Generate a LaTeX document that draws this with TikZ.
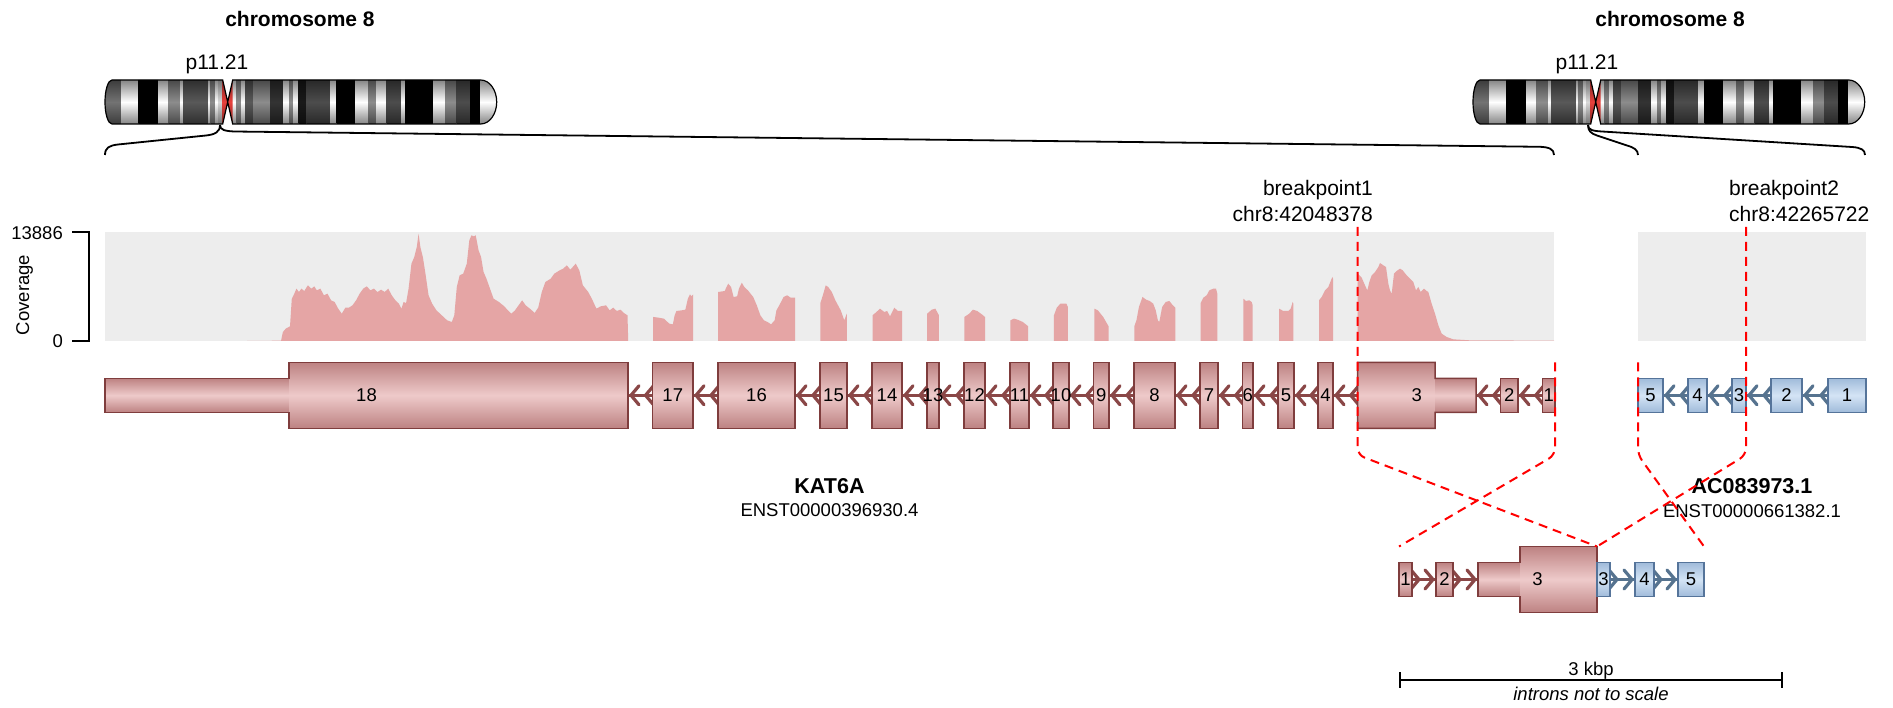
\documentclass[tikz,border=0pt]{standalone}
\usepackage{fontspec}
\setmainfont{Liberation Sans}
\usetikzlibrary{calc,backgrounds}

% colours
\definecolor{exmid}{HTML}{EECACA}
\definecolor{exedge}{HTML}{BD8282}
\definecolor{exline}{HTML}{7F3D3D}
\definecolor{inred}{HTML}{8A4747}
\definecolor{bxmid}{HTML}{D4E4F5}
\definecolor{bxedge}{HTML}{A0BBDA}
\definecolor{bxline}{HTML}{55749A}
\definecolor{inblue}{HTML}{56738F}
\definecolor{covfill}{HTML}{E5A5A5}
\definecolor{covbg}{HTML}{EDEDED}
\definecolor{bpred}{HTML}{FF0000}
\definecolor{cenred}{HTML}{E8413C}

\tikzset{
  txt/.style={inner sep=0pt, font=\fontsize{18.5}{22}\selectfont},
  boldtxt/.style={inner sep=0pt, font=\fontsize{21.5}{25}\selectfont\bfseries},
  bigtxt/.style={inner sep=0pt, font=\fontsize{21}{25}\selectfont},
  bigbold/.style={inner sep=0pt, font=\fontsize{21}{25}\selectfont\bfseries},
  exbase/.style={anchor=west, inner sep=0pt, outer sep=0pt, line width=1.5pt},
  exred/.style={exbase, top color=exedge, bottom color=exedge, middle color=exmid, draw=exline},
  exredf/.style={exbase, top color=exedge, bottom color=exedge, middle color=exmid},
  exblue/.style={exbase, top color=bxedge, bottom color=bxedge, middle color=bxmid, draw=bxline},
  exfull/.style={minimum height=66pt},
  exhalf/.style={minimum height=34pt},
  chev/.style={line width=3.2pt, line cap=round, line join=round},
  bpline/.style={draw=bpred, line width=2pt, dash pattern=on 9pt off 6pt, rounded corners=7pt},
  zoomcurve/.style={draw=black, line width=1.8pt},
  axisline/.style={draw=black, line width=2pt},
}

% exon box: name, style, height style, left x, right x, label
\newcommand\exon[6]{%
  \pgfmathsetmacro\exw{#5-#4}%
  \node[#2,#3,minimum width=\exw pt] (#1) at (#4,\yc) {};%
  \node[txt] (#1-l) at (#1.center) {#6};%
}
% intron with leftward chevrons
\newcommand\intronL[3]{%
  \draw[draw=#3, line width=3.5pt] (#1.east) -- (#2.west);
  \draw[draw=#3, chev] ($(#1.east)+(11,-9.5)$) -- ($(#1.east)+(3,0)$) -- ($(#1.east)+(11,9.5)$);
  \draw[draw=#3, chev] ($(#2.west)+(1,-9.5)$) -- ($(#2.west)+(-7,0)$) -- ($(#2.west)+(1,9.5)$);
}
% intron with rightward chevrons
\newcommand\intronR[3]{%
  \draw[draw=#3, line width=3.5pt] (#1.east) -- (#2.west);
  \draw[draw=#3, chev] ($(#1.east)+(-1,-9.5)$) -- ($(#1.east)+(7,0)$) -- ($(#1.east)+(-1,9.5)$);
  \draw[draw=#3, chev] ($(#2.west)+(-11,-9.5)$) -- ($(#2.west)+(-3,0)$) -- ($(#2.west)+(-11,9.5)$);
}
% ideogram of chromosome 8, left end at the given x
\newcommand\chromosome[1]{%
\begin{scope}[shift={(#1,80)}]
  \begin{scope}
    \clip (7,0) -- (117.7,0) -- (117.7,44) -- (7,44) .. controls (3.13,44) and (0,34.15) .. (0,22) .. controls (0,9.85) and (3.13,0) .. (7,0) -- cycle;
    \foreach \bandA/\bandB/\bandG in {0/16.7/0.45, 16.7/33.3/1, 33.3/53.3/0, 53.3/63.3/1, 63.3/75/0.55, 75/78.3/1, 78.3/103.3/0.35, 103.3/105.7/1, 105.7/110/0.55, 110/113.3/1, 113.3/118/0.85}
      {\definecolor{bandc}{gray}{\bandG}\shade[top color=bandc!50!black, bottom color=bandc!50!black, middle color=bandc] (\bandA,-1) rectangle (\bandB,45);}
  \end{scope}
  \begin{scope}
    \clip (127.7,0) -- (375.7,0) .. controls (384.5,0) and (391.7,9.85) .. (391.7,22) .. controls (391.7,34.15) and (384.5,44) .. (375.7,44) -- (127.7,44) -- cycle;
    \foreach \bandA/\bandB/\bandG in {127.4/131.7/1, 131.7/136.7/0.55, 136.7/140/1, 140/148.3/0.35, 148.3/165/0.55, 165/178.3/0.2, 178.3/184.3/1, 184.3/188.3/0.55, 188.3/193.3/1, 193.3/201.7/0.1, 201.7/225/0.3, 225/231.7/1, 231.7/250/0, 250/263.3/1, 263.3/271.7/0.55, 271.7/281.7/1, 281.7/296.7/0.3, 296.7/300/1, 300/328.3/0, 328.3/340/1, 340/351.7/0.55, 351.7/365/0.3, 365/375/0, 375/392/1}
      {\definecolor{bandc}{gray}{\bandG}\shade[top color=bandc!50!black, bottom color=bandc!50!black, middle color=bandc] (\bandA,-1) rectangle (\bandB,45);}
  \end{scope}
  \shade[top color=cenred!55!black, bottom color=cenred!55!black, middle color=cenred] (117.7,0) -- (122.7,22) -- (117.7,44) -- cycle;
  \shade[top color=cenred!55!black, bottom color=cenred!55!black, middle color=cenred] (127.7,0) -- (122.7,22) -- (127.7,44) -- cycle;
  \draw[line width=1.2pt] (7,0) -- (117.7,0) -- (127.7,44) -- (375.7,44) .. controls (384.5,44) and (391.7,34.15) .. (391.7,22) .. controls (391.7,9.85) and (384.5,0) .. (375.7,0) -- (127.7,0) -- (117.7,44) -- (7,44) .. controls (3.13,44) and (0,34.15) .. (0,22) .. controls (0,9.85) and (3.13,0) .. (7,0) -- cycle;
\end{scope}}

\begin{document}
\begin{tikzpicture}[x=1pt,y=-1pt]
\useasboundingbox (0,0) rectangle (1893,708);

% ---------------- chromosome ideograms ----------------
\chromosome{105}
\chromosome{1473}
\node[bigbold, anchor=base] (chrL) at (300,26.7) {chromosome 8};
\node[bigbold, anchor=base] (chrR) at (1670,26.7) {chromosome 8};
\node[bigtxt, anchor=base] (bandLlab) at (217,70) {p11.21};
\node[bigtxt, anchor=base] (bandRlab) at (1587,70) {p11.21};

% zoom curves from the band to the gene regions
\coordinate (bandL) at (220,125);
\coordinate (bandR) at (1588,125);
\draw[zoomcurve] (bandL) .. controls (220,132) and (215,134.5) .. (206,135.5) -- (118,144.5) .. controls (109,145.5) and (105,148) .. (105,155);
\draw[zoomcurve] (bandL) .. controls (220,130) and (225,131) .. (234,131.5) -- (1540,146.8) .. controls (1549,147.2) and (1554,149) .. (1554,155);
\draw[zoomcurve] (bandR) .. controls (1588,131) and (1591,133.5) .. (1597,135.5) -- (1627,145.5) .. controls (1634,147.5) and (1638,150) .. (1638,155);
\draw[zoomcurve] (bandR) .. controls (1588,130) and (1593,131) .. (1602,131.5) -- (1852,147) .. controls (1861,147.6) and (1865,150) .. (1865,155);

% ---------------- coverage track ----------------
\fill[covbg] (105,232) rectangle (1554,341);
\fill[covbg] (1638,232) rectangle (1866,341);

\begin{scope}[shift={(90,220.33)}, xscale=0.35714, yscale=0.33333]
\fill[covfill] (440,362) -- (535,361) -- (540,335) -- (548,325) -- (560,318) -- (565,235) -- (570,225) -- (578,205) -- (585,215) -- (592,205) -- (600,212) -- (610,195) -- (620,205) -- (628,198) -- (635,210) -- (645,205) -- (655,225) -- (665,220) -- (675,240) -- (685,245) -- (695,265) -- (705,280) -- (715,262) -- (725,262) -- (735,255) -- (745,240) -- (755,220) -- (765,205) -- (775,198) -- (785,210) -- (795,205) -- (805,215) -- (815,208) -- (825,215) -- (835,205) -- (845,225) -- (855,240) -- (865,250) -- (872,265) -- (878,245) -- (885,248) -- (892,205) -- (900,130) -- (908,110) -- (915,80) -- (920,40) -- (925,80) -- (932,110) -- (940,165) -- (948,225) -- (958,250) -- (970,270) -- (985,285) -- (1000,300) -- (1013,305) -- (1020,285) -- (1027,200) -- (1035,165) -- (1045,160) -- (1055,130) -- (1062,60) -- (1068,45) -- (1075,48) -- (1080,45) -- (1088,90) -- (1095,110) -- (1102,155) -- (1110,175) -- (1120,205) -- (1130,235) -- (1145,245) -- (1160,258) -- (1170,270) -- (1180,280) -- (1190,270) -- (1200,255) -- (1210,240) -- (1220,255) -- (1235,268) -- (1245,278) -- (1255,262) -- (1265,215) -- (1275,185) -- (1290,175) -- (1300,160) -- (1315,150) -- (1325,145) -- (1335,135) -- (1345,148) -- (1360,130) -- (1370,150) -- (1380,195) -- (1395,215) -- (1405,235) -- (1418,265) -- (1430,258) -- (1445,255) -- (1455,270) -- (1465,262) -- (1475,272) -- (1485,268) -- (1495,278) -- (1505,285) -- (1507,362) -- cycle;
\end{scope}

\begin{scope}[shift={(630,220.33)}, xscale=0.35714, yscale=0.33333]
\fill[covfill] (65,362) -- (65,290) -- (80,292) -- (95,295) -- (110,310) -- (120,312) -- (125,285) -- (130,272) -- (145,270) -- (155,268) -- (162,235) -- (168,222) -- (172,228) -- (177,222) -- (177,362) -- cycle;
\fill[covfill] (247,362) -- (247,215) -- (265,212) -- (275,190) -- (283,200) -- (290,230) -- (300,228) -- (305,205) -- (313,187) -- (320,200) -- (330,210) -- (345,230) -- (355,255) -- (365,285) -- (375,300) -- (385,305) -- (395,312) -- (405,300) -- (410,270) -- (418,255) -- (430,230) -- (440,225) -- (450,232) -- (462,232) -- (462,362) -- cycle;
\fill[covfill] (533,362) -- (533,248) -- (540,225) -- (548,195) -- (555,200) -- (565,215) -- (575,240) -- (590,270) -- (600,300) -- (607,280) -- (607,362) -- cycle;
\fill[covfill] (679,362) -- (679,285) -- (690,275) -- (700,265) -- (712,275) -- (720,272) -- (728,288) -- (740,262) -- (750,272) -- (762,272) -- (762,362) -- cycle;
\fill[covfill] (832,362) -- (832,280) -- (845,268) -- (855,265) -- (865,285) -- (865,362) -- cycle;
\fill[covfill] (936,362) -- (936,290) -- (950,280) -- (960,268) -- (972,272) -- (985,282) -- (994,290) -- (994,362) -- cycle;
\fill[covfill] (1065,362) -- (1065,300) -- (1075,295) -- (1085,298) -- (1100,305) -- (1115,318) -- (1115,362) -- cycle;
\fill[covfill] (1187,362) -- (1187,285) -- (1195,262) -- (1205,250) -- (1222,250) -- (1226,260) -- (1226,362) -- cycle;
\fill[covfill] (1300,362) -- (1300,265) -- (1310,270) -- (1325,290) -- (1340,318) -- (1340,362) -- cycle;
\fill[covfill] (1412,362) -- (1412,318) -- (1418,300) -- (1425,260) -- (1435,230) -- (1445,238) -- (1455,242) -- (1465,250) -- (1472,270) -- (1478,300) -- (1482,305) -- (1490,260) -- (1500,245) -- (1510,242) -- (1520,255) -- (1527,262) -- (1527,362) -- cycle;
\end{scope}

\begin{scope}[shift={(1170,220.33)}, xscale=0.33333, yscale=0.33333]
\fill[covfill] (92,362) -- (92,248) -- (100,232) -- (110,225) -- (118,210) -- (130,205) -- (138,205) -- (142,220) -- (142,362) -- cycle;
\fill[covfill] (220,362) -- (220,235) -- (228,242) -- (238,240) -- (245,245) -- (248,255) -- (248,362) -- cycle;
\fill[covfill] (327,362) -- (327,265) -- (340,272) -- (355,272) -- (362,265) -- (368,245) -- (370,250) -- (370,362) -- cycle;
\fill[covfill] (447,362) -- (447,240) -- (455,230) -- (465,210) -- (475,200) -- (483,180) -- (487,170) -- (489,175) -- (489,362) -- cycle;
\fill[covfill] (563,362) -- (563,160) -- (575,172) -- (585,195) -- (592,210) -- (598,185) -- (605,165) -- (615,155) -- (625,140) -- (630,128) -- (640,135) -- (648,140) -- (655,190) -- (660,210) -- (665,220) -- (672,160) -- (680,152) -- (690,145) -- (698,150) -- (710,165) -- (720,175) -- (730,185) -- (738,210) -- (745,200) -- (752,215) -- (762,205) -- (770,212) -- (775,215) -- (785,250) -- (795,280) -- (805,315) -- (815,340) -- (830,350) -- (850,357) -- (900,360) -- (1152,361) -- (1152,362) -- cycle;
\end{scope}

% coverage axis
\draw[axisline] (72,232) -- (89,232) -- (89,341) -- (72,341);
\node[txt, anchor=base east] (ymax) at (63,239.3) {13886};
\node[txt, anchor=base east] (ymin) at (63,347.3) {0};
\node[txt, rotate=90, anchor=base] (ylab) at (29,295) {Coverage};

% ---------------- KAT6A transcript ----------------
\def\yc{395.3}
\exon{e18u}{exredf}{exhalf}{105}{289}{}
\exon{e18}{exredf}{exfull}{289}{628}{}
\draw[exline, line width=1.5pt] (e18u.south west) -- (e18u.north west) -- (e18u.north east) -- (e18.north west) -- (e18.north east) -- (e18.south east) -- (e18.south west) -- (e18u.south east) -- cycle;
\node[txt] (e18lab) at ($(e18u.west)!0.5!(e18.east)$) {18};
\exon{e17}{exred}{exfull}{652.5}{693}{17}
\exon{e16}{exred}{exfull}{718}{795}{16}
\exon{e15}{exred}{exfull}{820}{847}{15}
\exon{e14}{exred}{exfull}{872}{902}{14}
\exon{e13}{exred}{exfull}{927}{939}{13}
\exon{e12}{exred}{exfull}{964}{985}{12}
\exon{e11}{exred}{exfull}{1010}{1029}{11}
\exon{e10}{exred}{exfull}{1053}{1069}{10}
\exon{e9}{exred}{exfull}{1093.6}{1109}{9}
\exon{e8}{exred}{exfull}{1134}{1175}{8}
\exon{e7}{exred}{exfull}{1200}{1218}{7}
\exon{e6}{exred}{exfull}{1242.7}{1253}{6}
\exon{e5}{exred}{exfull}{1278}{1294}{5}
\exon{e4}{exred}{exfull}{1318}{1333}{4}
\exon{e3}{exredf}{exfull}{1357.7}{1435}{}
\exon{e3u}{exredf}{exhalf}{1435}{1476}{}
\draw[exline, line width=1.5pt] (e3.north west) -- (e3.north east) -- (e3u.north west) -- (e3u.north east) -- (e3u.south east) -- (e3u.south west) -- (e3.south east) -- (e3.south west) -- cycle;
\node[txt] (e3lab) at ($(e3.west)!0.5!(e3u.east)$) {3};
\exon{e2}{exred}{exhalf}{1500.7}{1518}{2}
\exon{e1}{exred}{exhalf}{1542.7}{1555}{1}

% ---------------- AC083973.1 transcript ----------------
\exon{a5}{exblue}{exhalf}{1638}{1663}{5}
\exon{a4}{exblue}{exhalf}{1688}{1707}{4}
\exon{a3}{exblue}{exhalf}{1732}{1746}{3}
\exon{a2}{exblue}{exhalf}{1771}{1802}{2}
\exon{a1}{exblue}{exhalf}{1828}{1866}{1}

% ---------------- fusion transcript ----------------
\def\yc{579.5}
\exon{f1}{exred}{exhalf}{1399}{1412}{1}
\exon{f2}{exred}{exhalf}{1436}{1453}{2}
\exon{f3u}{exredf}{exhalf}{1478}{1520}{}
\exon{f3}{exredf}{exfull}{1520}{1597}{}
\draw[exline, line width=1.5pt] (f3u.south west) -- (f3u.north west) -- (f3u.north east) -- (f3.north west) -- (f3.north east) -- (f3.south east) -- (f3.south west) -- (f3u.south east) -- cycle;
\node[txt] (f3lab) at ($(f3u.west)!0.5!(f3.east)$) {3};
\exon{g3}{exblue}{exhalf}{1597}{1610}{3}
\exon{g4}{exblue}{exhalf}{1635}{1654}{4}
\exon{g5}{exblue}{exhalf}{1678}{1704}{5}

% introns with strand chevrons, beneath the exons
\begin{scope}[on background layer]
\intronL{e18}{e17}{inred}
\intronL{e17}{e16}{inred}
\intronL{e16}{e15}{inred}
\intronL{e15}{e14}{inred}
\intronL{e14}{e13}{inred}
\intronL{e13}{e12}{inred}
\intronL{e12}{e11}{inred}
\intronL{e11}{e10}{inred}
\intronL{e10}{e9}{inred}
\intronL{e9}{e8}{inred}
\intronL{e8}{e7}{inred}
\intronL{e7}{e6}{inred}
\intronL{e6}{e5}{inred}
\intronL{e5}{e4}{inred}
\intronL{e4}{e3}{inred}
\intronL{e3u}{e2}{inred}
\intronL{e2}{e1}{inred}
\intronL{a5}{a4}{inblue}
\intronL{a4}{a3}{inblue}
\intronL{a3}{a2}{inblue}
\intronL{a2}{a1}{inblue}
\intronR{f1}{f2}{inred}
\intronR{f2}{f3u}{inred}
\intronR{g3}{g4}{inblue}
\intronR{g4}{g5}{inblue}
\end{scope}

% gene names
\node[boldtxt, anchor=base] (g1name) at (829.5,493) {KAT6A};
\node[txt, anchor=base] (g1tx) at (829.5,516) {ENST00000396930.4};
\node[boldtxt, anchor=base] (g2name) at (1752,493) {AC083973.1};
\node[txt, anchor=base] (g2tx) at (1752,517) {ENST00000661382.1};

% breakpoint labels
\node[bigtxt, anchor=base east] (bp1a) at (1373,196) {breakpoint1};
\node[bigtxt, anchor=base east] (bp1b) at (1373,222) {chr8:42048378};
\node[bigtxt, anchor=base west] (bp2a) at (1729,196) {breakpoint2};
\node[bigtxt, anchor=base west] (bp2b) at (1729,222) {chr8:42265722};

% breakpoint and transcript-end guides into the fusion
\coordinate (bp1) at (1357.7,227);
\coordinate (bp2) at (1746,227);
\draw[bpline] (bp1) -- (1357.7,455) -- (f3.north east);
\draw[bpline] (e1.east |- e3.north) -- (1555,455) -- (f1.west |- f3.north);
\draw[bpline] (a5.west |- e3.north) -- (1638,455) -- (g5.east |- f3.north);
\draw[bpline] (bp2) -- (1746,455) -- (f3.north east);

% scale bar
\coordinate (sbL) at (1400,680);
\coordinate (sbR) at (1782,680);
\draw[axisline] (sbL) -- (sbR);
\draw[axisline] ($(sbL)+(0,-8)$) -- ($(sbL)+(0,8)$);
\draw[axisline] ($(sbR)+(0,-8)$) -- ($(sbR)+(0,8)$);
\node[txt, anchor=base] (sbtop) at (1591,675.5) {3 kbp};
\node[txt, anchor=base, font=\fontsize{18.5}{22}\selectfont\itshape] (sbbot) at (1591,700) {introns not to scale};

\end{tikzpicture}
\end{document}
